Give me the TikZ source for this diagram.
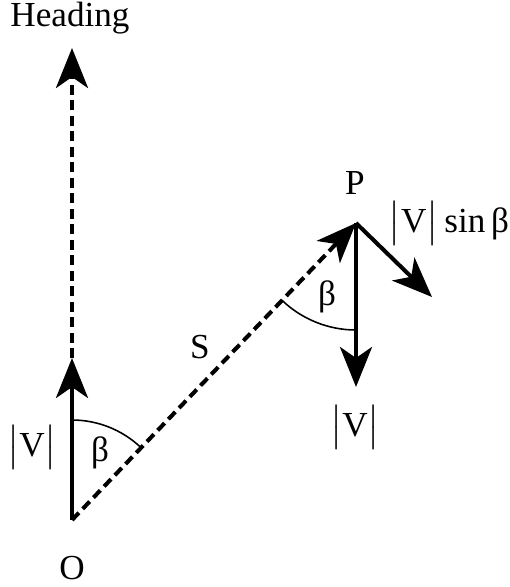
\documentclass[tikz,border=0pt]{standalone}
\usepackage{amsmath}
\usepackage{fontspec}
\setmainfont{Liberation Serif}
\usepackage{tikz}
\usetikzlibrary{arrows.meta,calc}
\newcommand{\absV}{$\bigl|$V$\bigr|$}

\begin{document}
\begin{tikzpicture}[
    vec/.style={line width=2.3pt, -{Stealth[length=8mm, width=6.4mm, inset=2.2mm]}},
    dvec/.style={vec, dash pattern=on 2mm off 1.1mm},
    ang/.style={line width=0.9pt},
    lbl/.style={font=\fontsize{20}{23}\selectfont, inner sep=0pt}
]
    \useasboundingbox (0,0) rectangle (10.18,-11.74);
    % points
    \coordinate (O) at (1.44,-10.40);
    \coordinate (Vtip) at (1.44,-7.16);
    \coordinate (Htip) at (1.44,-0.96);
    \coordinate (P) at (7.12,-4.46);
    \coordinate (Vp) at (7.12,-7.74);
    \coordinate (Sp) at (8.64,-5.94);
    % vectors
    \draw[vec] (O) -- (Vtip);
    \draw[dvec] (Vtip) -- (Htip);
    \draw[dvec] (O) -- (P);
    \draw[vec] (P) -- (Vp);
    \draw[vec] (P) -- (Sp);
    % angles
    \draw[ang] ($(O)+(90:2)$) arc[start angle=90, end angle=46.3, radius=2];
    \draw[ang] ($(P)+(226.3:2.14)$) arc[start angle=226.3, end angle=270, radius=2.14];
    % labels
    \node[lbl] (heading) at (1.40,-0.36) {Heading};
    \node[lbl] (lO) at (1.44,-11.36) {O};
    \node[lbl] (lP) at (7.10,-3.66) {P};
    \node[lbl] (lS) at (4.00,-6.94) {S};
    \node[lbl] (vO) at (0.64,-8.94) {\absV};
    \node[lbl] (bO) at (2.00,-9.06) {β};
    \node[lbl] (bP) at (6.54,-5.94) {β};
    \node[lbl] (vP) at (7.10,-8.54) {\absV};
    \node[lbl] (vs) at (8.98,-4.46) {\absV\,sin\,β};
\end{tikzpicture}
\end{document}
